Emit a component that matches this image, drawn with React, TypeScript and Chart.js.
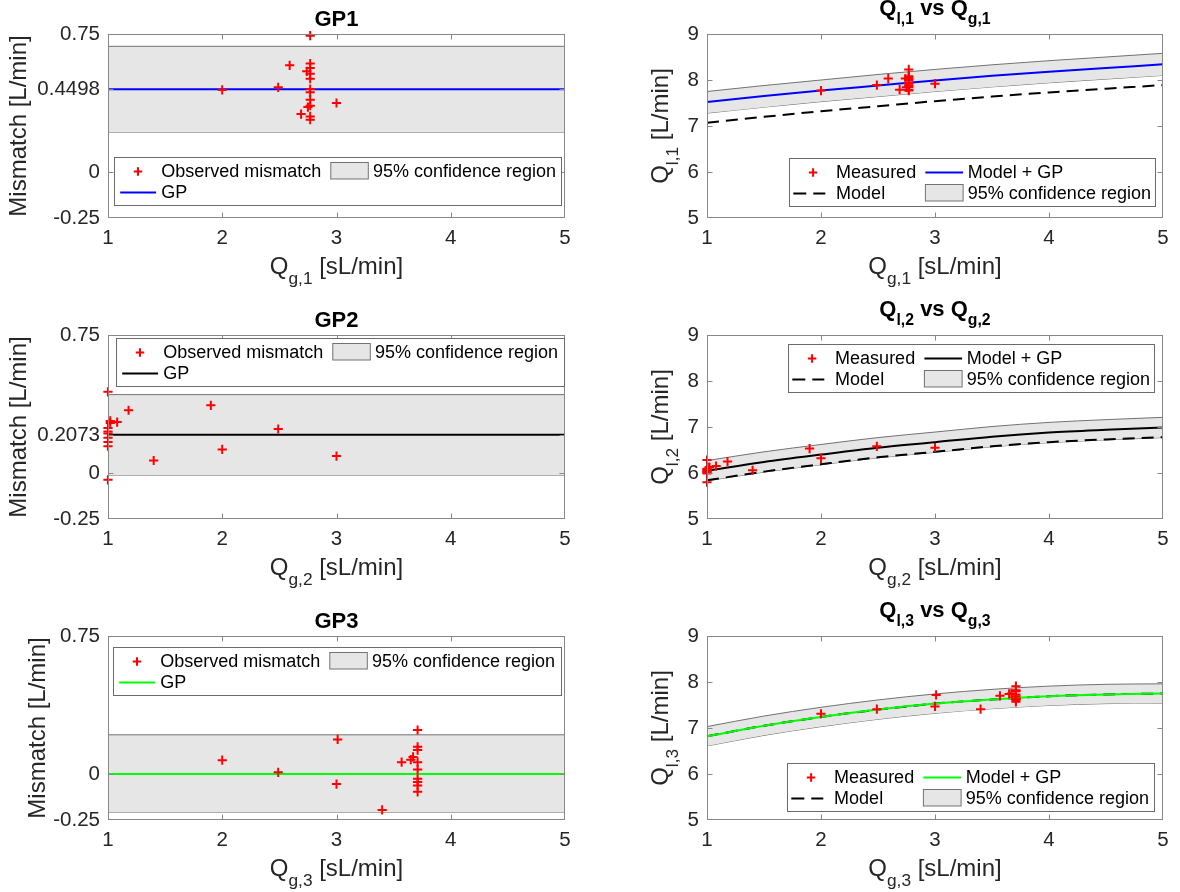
import React, { useEffect, useRef } from "react";
import { Chart, registerables } from "chart.js";

Chart.register(...registerables);

const FONT = '"Liberation Sans", Arial, Helvetica, sans-serif';
const TICK_SIZE = 20.5;
const LABEL_SIZE = 24;
const TITLE_SIZE = 22;
const LEGEND_SIZE = 18;
const AXIS_COLOR = "#888888";
const TEXT_COLOR = "#262626";

// ---------- shared axis data ----------
const xTicks = [1, 2, 3, 4, 5];
const xTickLabels = ["1", "2", "3", "4", "5"];
const qYTicks = [5, 6, 7, 8, 9];
const qYTickLabels = ["5", "6", "7", "8", "9"];

// ---------- GP1 ----------
const gp1X = [2.0, 2.49, 2.59, 2.69, 2.74, 2.75, 3.0, 2.77, 2.77, 2.77, 2.77, 2.77, 2.77, 2.77, 2.77, 2.77, 2.77, 2.77];
const gp1Mismatch = [0.446, 0.46, 0.58, 0.315, 0.547, 0.353, 0.375, 0.741, 0.589, 0.565, 0.534, 0.507, 0.451, 0.433, 0.393, 0.36, 0.302, 0.284];
const gpLineX = [1, 5];
const gp1Mean = [0.4498, 0.4498];
const gp1Upper = [0.683, 0.683];
const gp1Lower = [0.217, 0.217];
const gp1YTicks = [-0.25, 0, 0.4498, 0.75];
const gp1YTickLabels = ["-0.25", "0", "0.4498", "0.75"];

// ---------- GP2 ----------
const gp2X = [1.0, 1.0, 1.0, 1.0, 1.0, 1.0, 1.0, 1.0, 1.02, 1.02, 1.08, 1.18, 1.4, 1.9, 2.0, 2.49, 3.0];
const gp2Mismatch = [0.441, 0.245, 0.226, 0.214, 0.192, 0.168, 0.146, -0.037, 0.283, 0.272, 0.277, 0.341, 0.068, 0.368, 0.128, 0.239, 0.092];
const gp2Mean = [0.2073, 0.2073];
const gp2Upper = [0.426, 0.426];
const gp2Lower = [-0.012, -0.012];
const gp2YTicks = [-0.25, 0, 0.2073, 0.75];
const gp2YTickLabels = ["-0.25", "0", "0.2073", "0.75"];

// ---------- GP3 ----------
const gp3X = [2.0, 2.49, 3.01, 3.0, 3.4, 3.57, 3.65, 3.67, 3.71, 3.71, 3.71, 3.71, 3.71, 3.71, 3.71, 3.71, 3.71];
const gp3Mismatch = [0.075, 0.009, 0.188, -0.055, -0.195, 0.064, 0.078, 0.093, 0.239, 0.148, 0.13, 0.064, 0.024, -0.026, -0.044, -0.062, -0.097];
const gp3Mean = [0, 0];
const gp3Upper = [0.213, 0.213];
const gp3Lower = [-0.207, -0.207];
const gp3YTicks = [-0.25, 0, 0.75];
const gp3YTickLabels = ["-0.25", "0", "0.75"];

// ---------- Q_l vs Q_g curves ----------
const curveX = [1, 1.5, 2, 2.5, 3, 3.5, 4, 4.5, 5];

const q1Measured = [7.77, 7.89, 8.03, 7.79, 8.03, 7.84, 7.92, 8.23, 8.08, 8.06, 8.02, 8.0, 7.94, 7.92, 7.88, 7.85, 7.79, 7.77];
const q1Model = [7.07, 7.2, 7.32, 7.43, 7.54, 7.64, 7.73, 7.81, 7.89];
const q1ModelGP = [7.52, 7.65, 7.77, 7.88, 7.99, 8.09, 8.18, 8.26, 8.34];
const q1Upper = [7.75, 7.88, 8.0, 8.12, 8.23, 8.33, 8.42, 8.5, 8.58];
const q1Lower = [7.28, 7.41, 7.53, 7.64, 7.75, 7.85, 7.94, 8.02, 8.1];

const q2Measured = [6.28, 6.09, 6.07, 6.05, 6.03, 6.01, 5.99, 5.8, 6.13, 6.12, 6.15, 6.25, 6.06, 6.53, 6.32, 6.58, 6.55];
const q2Model = [5.84, 6.03, 6.19, 6.34, 6.46, 6.58, 6.67, 6.73, 6.78];
const q2ModelGP = [6.05, 6.24, 6.4, 6.55, 6.67, 6.79, 6.88, 6.94, 6.99];
const q2Upper = [6.27, 6.46, 6.62, 6.77, 6.89, 7.01, 7.1, 7.16, 7.21];
const q2Lower = [5.83, 6.02, 6.18, 6.33, 6.45, 6.57, 6.66, 6.72, 6.77];

const q3Measured = [7.31, 7.41, 7.72, 7.47, 7.41, 7.7, 7.74, 7.75, 7.91, 7.82, 7.8, 7.73, 7.69, 7.64, 7.63, 7.61, 7.57];
const q3Model = [6.82, 7.05, 7.24, 7.4, 7.53, 7.62, 7.69, 7.73, 7.75];
const q3ModelGP = [6.82, 7.05, 7.24, 7.4, 7.53, 7.62, 7.69, 7.73, 7.75];
const q3Upper = [7.03, 7.26, 7.45, 7.61, 7.74, 7.84, 7.91, 7.95, 7.96];
const q3Lower = [6.61, 6.84, 7.03, 7.19, 7.32, 7.42, 7.49, 7.53, 7.54];

// ---------- helpers ----------
type Part = [string, boolean];

function pts(xs: number[], ys: number[]) {
  return xs.map((x, i) => ({ x, y: ys[i] }));
}
function pointsDs(xs: number[], ys: number[]) {
  return {
    data: pts(xs, ys),
    showLine: false,
    pointStyle: "cross",
    pointRadius: 4.6,
    pointHoverRadius: 4.6,
    pointBorderColor: "#ff0000",
    pointBorderWidth: 2,
    borderColor: "#ff0000",
    backgroundColor: "#ff0000",
    clip: false,
  };
}
function lineDs(xs: number[], ys: number[], color: string, dash: number[] = []) {
  return {
    data: pts(xs, ys),
    borderColor: color,
    borderWidth: 2,
    borderDash: dash,
    pointRadius: 0,
    fill: false,
    cubicInterpolationMode: "monotone",
    clip: false,
  };
}
function bandDs(xs: number[], ys: number[], fillNext: boolean) {
  return {
    data: pts(xs, ys),
    borderColor: "#727272",
    borderWidth: 1,
    pointRadius: 0,
    fill: fillNext ? "+1" : false,
    backgroundColor: "#e6e6e6",
    cubicInterpolationMode: "monotone",
  };
}

function drawRich(ctx: CanvasRenderingContext2D, parts: Part[], x: number, y: number, size: number, bold: boolean, color: string) {
  const main = `${bold ? "bold " : ""}${size}px ${FONT}`;
  const sub = `${bold ? "bold " : ""}${(size * 0.72).toFixed(1)}px ${FONT}`;
  ctx.textBaseline = "alphabetic";
  ctx.textAlign = "left";
  ctx.fillStyle = color;
  let total = 0;
  const widths = parts.map(([t, s]) => {
    ctx.font = s ? sub : main;
    const w = ctx.measureText(t).width;
    total += w;
    return w;
  });
  let cx = x - total / 2;
  parts.forEach(([t, s], i) => {
    ctx.font = s ? sub : main;
    ctx.fillText(t, cx, y + (s ? size * 0.42 : 0));
    cx += widths[i];
  });
}

interface LegendItem { kind: "marker" | "line" | "dash" | "patch"; label: string; col: number; row: number; color?: string }
interface LegendCol { iconL: number; iconR: number; text: number; marker: number }
interface LegendSpec { dx: number; dy: number; dr: number; cols: LegendCol[]; items: LegendItem[] }

const leftCols: LegendCol[] = [
  { iconL: 5.7, iconR: 41.6, text: 46.8, marker: 23.5 },
  { iconL: 216.3, iconR: 253.8, text: 258.5, marker: 235 },
];
const rightCols: LegendCol[] = [
  { iconL: 3.8, iconR: 35.8, text: 46.6, marker: 23.6 },
  { iconL: 135.9, iconR: 173.6, text: 178.3, marker: 155 },
];

function gpLegendItems(color: string): LegendItem[] {
  return [
    { kind: "marker", label: "Observed mismatch", col: 0, row: 0 },
    { kind: "patch", label: "95% confidence region", col: 1, row: 0 },
    { kind: "line", label: "GP", col: 0, row: 1, color },
  ];
}
function qLegendItems(color: string): LegendItem[] {
  return [
    { kind: "marker", label: "Measured", col: 0, row: 0 },
    { kind: "line", label: "Model + GP", col: 1, row: 0, color },
    { kind: "dash", label: "Model", col: 0, row: 1 },
    { kind: "patch", label: "95% confidence region", col: 1, row: 1 },
  ];
}

function drawLegend(ctx: CanvasRenderingContext2D, L: LegendSpec, a: any) {
  const left = Math.round(a.left + L.dx) + 0.5;
  const top = Math.round(a.top + L.dy) + 0.5;
  const right = Math.round(a.right - L.dr) + 0.5;
  const h = 48;
  ctx.save();
  ctx.fillStyle = "#ffffff";
  ctx.fillRect(left, top, right - left, h);
  ctx.strokeStyle = "#6b6b6b";
  ctx.lineWidth = 1;
  ctx.strokeRect(left, top, right - left, h);
  const rowsY = [top + 14, top + 35];
  for (const it of L.items) {
    const c = L.cols[it.col];
    const y = rowsY[it.row];
    if (it.kind === "marker") {
      ctx.strokeStyle = "#ff0000";
      ctx.lineWidth = 2;
      ctx.setLineDash([]);
      const mx = left + c.marker;
      ctx.beginPath();
      ctx.moveTo(mx - 4.2, y);
      ctx.lineTo(mx + 4.2, y);
      ctx.moveTo(mx, y - 4.2);
      ctx.lineTo(mx, y + 4.2);
      ctx.stroke();
    } else if (it.kind === "line" || it.kind === "dash") {
      ctx.strokeStyle = it.color || "#000000";
      ctx.lineWidth = 2;
      ctx.setLineDash(it.kind === "dash" ? [13, 7] : []);
      ctx.beginPath();
      ctx.moveTo(left + c.iconL, y);
      ctx.lineTo(left + c.iconR, y);
      ctx.stroke();
      ctx.setLineDash([]);
    } else {
      ctx.fillStyle = "#e6e6e6";
      ctx.fillRect(left + c.iconL, y - 9, c.iconR - c.iconL, 16.5);
      ctx.strokeStyle = "#727272";
      ctx.lineWidth = 1;
      ctx.strokeRect(left + c.iconL, y - 9, c.iconR - c.iconL, 16.5);
    }
    ctx.fillStyle = "#000000";
    ctx.font = `${LEGEND_SIZE}px ${FONT}`;
    ctx.textAlign = "left";
    ctx.textBaseline = "middle";
    ctx.fillText(it.label, left + c.text, y + 0.5);
  }
  ctx.restore();
}

interface Panel {
  x: number; y: number; w: number; h: number;
  yAxisW: number; padRight: number; padTop: number; xAxisH: number;
  yMin: number; yMax: number; yTicks: number[]; yTickLabels: string[];
  datasets: any[];
  title: Part[]; titleDy: number; titleBold: boolean;
  xLabel: Part[];
  yLabel: Part[]; yLabelX: number;
  legend: LegendSpec;
}

const PANELS: Panel[] = [
  {
    x: 0, y: 0, w: 590, h: 300, yAxisW: 108, padRight: 25, padTop: 34, xAxisH: 82,
    yMin: -0.25, yMax: 0.75, yTicks: gp1YTicks, yTickLabels: gp1YTickLabels,
    datasets: [pointsDs(gp1X, gp1Mismatch), lineDs(gpLineX, gp1Mean, "#0000ff"), bandDs(gpLineX, gp1Upper, true), bandDs(gpLineX, gp1Lower, false)],
    title: [["GP1", false]], titleDy: -8.5, titleBold: true,
    xLabel: [["Q", false], ["g,1", true], [" [sL/min]", false]],
    yLabel: [["Mismatch [L/min]", false]], yLabelX: 26.4,
    legend: { dx: 5.7, dy: 123, dr: 3.8, cols: leftCols, items: gpLegendItems("#0000ff") },
  },
  {
    x: 590, y: 0, w: 590, h: 300, yAxisW: 117, padRight: 17, padTop: 34, xAxisH: 82,
    yMin: 5, yMax: 9, yTicks: qYTicks, yTickLabels: qYTickLabels,
    datasets: [pointsDs(gp1X, q1Measured), lineDs(curveX, q1ModelGP, "#0000ff"), lineDs(curveX, q1Model, "#000000", [12, 7]), bandDs(curveX, q1Upper, true), bandDs(curveX, q1Lower, false)],
    title: [["Q", false], ["l,1", true], [" vs Q", false], ["g,1", true]], titleDy: -19.5, titleBold: true,
    xLabel: [["Q", false], ["g,1", true], [" [sL/min]", false]],
    yLabel: [["Q", false], ["l,1", true], [" [L/min]", false]], yLabelX: 78,
    legend: { dx: 81.5, dy: 123.7, dr: 8, cols: rightCols, items: qLegendItems("#0000ff") },
  },
  {
    x: 0, y: 300, w: 590, h: 300, yAxisW: 108, padRight: 25, padTop: 35, xAxisH: 81,
    yMin: -0.25, yMax: 0.75, yTicks: gp2YTicks, yTickLabels: gp2YTickLabels,
    datasets: [pointsDs(gp2X, gp2Mismatch), lineDs(gpLineX, gp2Mean, "#000000"), bandDs(gpLineX, gp2Upper, true), bandDs(gpLineX, gp2Lower, false)],
    title: [["GP2", false]], titleDy: -8.5, titleBold: true,
    xLabel: [["Q", false], ["g,2", true], [" [sL/min]", false]],
    yLabel: [["Mismatch [L/min]", false]], yLabelX: 26.4,
    legend: { dx: 8.3, dy: 2.7, dr: 1.1, cols: leftCols, items: gpLegendItems("#000000") },
  },
  {
    x: 590, y: 300, w: 590, h: 300, yAxisW: 117, padRight: 17, padTop: 35, xAxisH: 81,
    yMin: 5, yMax: 9, yTicks: qYTicks, yTickLabels: qYTickLabels,
    datasets: [pointsDs(gp2X, q2Measured), lineDs(curveX, q2ModelGP, "#000000"), lineDs(curveX, q2Model, "#000000", [12, 7]), bandDs(curveX, q2Upper, true), bandDs(curveX, q2Lower, false)],
    title: [["Q", false], ["l,2", true], [" vs Q", false], ["g,2", true]], titleDy: -19.5, titleBold: true,
    xLabel: [["Q", false], ["g,2", true], [" [sL/min]", false]],
    yLabel: [["Q", false], ["l,2", true], [" [L/min]", false]], yLabelX: 78,
    legend: { dx: 80.5, dy: 9.3, dr: 8.7, cols: rightCols, items: qLegendItems("#000000") },
  },
  {
    x: 0, y: 600, w: 590, h: 292, yAxisW: 108, padRight: 25, padTop: 36, xAxisH: 72,
    yMin: -0.25, yMax: 0.75, yTicks: gp3YTicks, yTickLabels: gp3YTickLabels,
    datasets: [pointsDs(gp3X, gp3Mismatch), lineDs(gpLineX, gp3Mean, "#00ff00"), bandDs(gpLineX, gp3Upper, true), bandDs(gpLineX, gp3Lower, false)],
    title: [["GP3", false]], titleDy: -8.5, titleBold: true,
    xLabel: [["Q", false], ["g,3", true], [" [sL/min]", false]],
    yLabel: [["Mismatch [L/min]", false]], yLabelX: 44.6,
    legend: { dx: 4.5, dy: 11.3, dr: 4.1, cols: leftCols, items: gpLegendItems("#00ff00") },
  },
  {
    x: 590, y: 600, w: 590, h: 292, yAxisW: 117, padRight: 17, padTop: 36, xAxisH: 72,
    yMin: 5, yMax: 9, yTicks: qYTicks, yTickLabels: qYTickLabels,
    datasets: [pointsDs(gp3X, q3Measured), lineDs(curveX, q3ModelGP, "#00ff00"), lineDs(curveX, q3Model, "#000000", [12, 7]), bandDs(curveX, q3Upper, true), bandDs(curveX, q3Lower, false)],
    title: [["Q", false], ["l,3", true], [" vs Q", false], ["g,3", true]], titleDy: -19.5, titleBold: true,
    xLabel: [["Q", false], ["g,3", true], [" [sL/min]", false]],
    yLabel: [["Q", false], ["l,3", true], [" [L/min]", false]], yLabelX: 78,
    legend: { dx: 80.3, dy: 126.7, dr: 8.7, cols: rightCols, items: qLegendItems("#00ff00") },
  },
];

function makeDecor(p: Panel) {
  return {
    id: "decor",
    afterDraw(chart: any) {
      const ctx: CanvasRenderingContext2D = chart.ctx;
      const a = chart.chartArea;
      const xs = chart.scales.x;
      const ys = chart.scales.y;
      ctx.save();
      ctx.strokeStyle = AXIS_COLOR;
      ctx.lineWidth = 1;
      ctx.setLineDash([]);
      const L = Math.round(a.left) + 0.5, R = Math.round(a.right) - 0.5;
      const T = Math.round(a.top) + 0.5, B = Math.round(a.bottom) - 0.5;
      ctx.strokeRect(L, T, R - L, B - T);
      const tl = 5;
      ctx.beginPath();
      for (const t of xs.ticks) {
        const px = Math.round(xs.getPixelForValue(t.value)) + 0.5;
        if (px <= L + 1 || px >= R - 1) continue;
        ctx.moveTo(px, B); ctx.lineTo(px, B - tl);
        ctx.moveTo(px, T); ctx.lineTo(px, T + tl);
      }
      for (const t of ys.ticks) {
        const py = Math.round(ys.getPixelForValue(t.value)) + 0.5;
        if (py <= T + 1 || py >= B - 1) continue;
        ctx.moveTo(L, py); ctx.lineTo(L + tl, py);
        ctx.moveTo(R, py); ctx.lineTo(R - tl, py);
      }
      ctx.stroke();
      const cx = (a.left + a.right) / 2;
      drawRich(ctx, p.title, cx, a.top + p.titleDy, TITLE_SIZE, p.titleBold, "#000000");
      drawRich(ctx, p.xLabel, cx, a.bottom + 56, LABEL_SIZE, false, TEXT_COLOR);
      ctx.save();
      ctx.translate(p.yLabelX, (a.top + a.bottom) / 2);
      ctx.rotate(-Math.PI / 2);
      drawRich(ctx, p.yLabel, 0, 0, LABEL_SIZE, false, TEXT_COLOR);
      ctx.restore();
      drawLegend(ctx, p.legend, a);
      ctx.restore();
    },
  };
}

function buildConfig(p: Panel): any {
  return {
    type: "line",
    data: { datasets: p.datasets },
    options: {
      animation: false,
      responsive: false,
      maintainAspectRatio: false,
      devicePixelRatio: 1,
      events: [],
      layout: { padding: { left: 0, right: p.padRight, top: p.padTop, bottom: 0 } },
      plugins: { legend: { display: false }, tooltip: { enabled: false }, title: { display: false } },
      scales: {
        x: {
          type: "linear",
          position: "bottom",
          min: 1,
          max: 5,
          afterBuildTicks: (s: any) => { s.ticks = xTicks.map((v) => ({ value: v })); },
          afterFit: (s: any) => { s.height = p.xAxisH; },
          grid: { display: false, drawTicks: false },
          border: { display: false },
          ticks: {
            autoSkip: false,
            maxRotation: 0,
            padding: 8,
            color: TEXT_COLOR,
            font: { family: FONT, size: TICK_SIZE },
            callback: (v: number) => xTickLabels[xTicks.indexOf(v)] ?? String(v),
          },
        },
        y: {
          type: "linear",
          position: "left",
          min: p.yMin,
          max: p.yMax,
          afterBuildTicks: (s: any) => { s.ticks = p.yTicks.map((v) => ({ value: v })); },
          afterFit: (s: any) => { s.width = p.yAxisW; },
          grid: { display: false, drawTicks: false },
          border: { display: false },
          ticks: {
            autoSkip: false,
            padding: 8,
            color: TEXT_COLOR,
            font: { family: FONT, size: TICK_SIZE },
            callback: (v: number) => p.yTickLabels[p.yTicks.indexOf(v)] ?? String(v),
          },
        },
      },
    },
    plugins: [makeDecor(p)],
  };
}

export default function App() {
  const refs = useRef<(HTMLCanvasElement | null)[]>([]);
  useEffect(() => {
    const charts = PANELS.map((p, i) => new Chart(refs.current[i] as HTMLCanvasElement, buildConfig(p)));
    return () => charts.forEach((c) => c.destroy());
  }, []);
  return (
    <div style={{ position: "absolute", left: 0, top: 0, width: 1180, height: 892, background: "#ffffff" }}>
      {PANELS.map((p, i) => (
        <canvas
          key={i}
          ref={(el) => { refs.current[i] = el; }}
          width={p.w}
          height={p.h}
          style={{ position: "absolute", left: p.x, top: p.y, width: p.w, height: p.h }}
        />
      ))}
    </div>
  );
}
